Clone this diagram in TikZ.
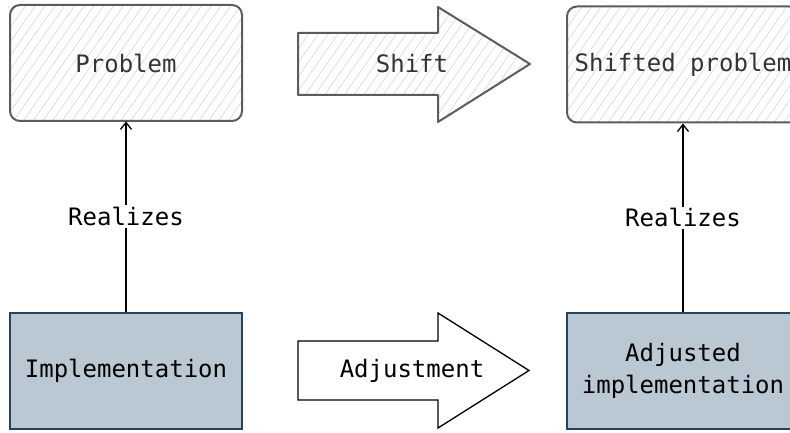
\documentclass[tikz,border=0pt]{standalone}
\usepackage{fontspec}
\setmonofont{DejaVu Sans Mono}
\usetikzlibrary{arrows.meta,patterns.meta,positioning}

\definecolor{sketchgray}{HTML}{5C5C5C}
\definecolor{hatchgray}{HTML}{DADADA}
\definecolor{implfill}{HTML}{BAC8D3}
\definecolor{impldraw}{HTML}{23445D}

\tikzset{
  problembox/.style={draw=sketchgray, line width=2pt, rounded corners=10pt,
    pattern={Lines[angle=55,distance=8pt,line width=0.7pt]}, pattern color=hatchgray,
    minimum width=232pt, minimum height=116pt, inner sep=0pt,
    font=\ttfamily\fontsize{24}{32}\selectfont, text=black!80},
  implbox/.style={draw=impldraw, line width=1.5pt, fill=implfill,
    minimum width=232pt, minimum height=116pt, inner sep=0pt, align=center,
    font=\ttfamily\fontsize{24}{32}\selectfont},
  lbl/.style={font=\ttfamily\fontsize{24}{32}\selectfont, fill=white, inner sep=2pt},
  realizes/.style={-{Straight Barb[length=7pt,width=11pt]}, line width=1.3pt}
}

\begin{document}
\begin{tikzpicture}[x=1pt, y=1pt]
  \useasboundingbox (0,0) rectangle (790,433);
  \clip (0,0) rectangle (790,433);

  % boxes
  \node[problembox] (prob) at (126,370) {Problem};
  \node[problembox] (sprob) at (683,368.5) {Shifted problem};
  \node[implbox] (impl) at (126,62) {Implementation};
  \node[implbox] (aimpl) at (683,62) {Adjusted\\implementation};

  % shift arrow
  \draw[draw=sketchgray, line width=2pt, line join=round,
    pattern={Lines[angle=55,distance=8pt,line width=0.7pt]}, pattern color=hatchgray]
    (298,338) -- (298,400) -- (438,400) -- (438,426) -- (530,369)
    -- (438,311) -- (438,338) -- cycle;
  \node[font=\ttfamily\fontsize{24}{32}\selectfont, text=black!80] (shift) at (412,369) {Shift};

  % adjustment arrow
  \draw[line width=1.3pt, fill=white]
    (298,33) -- (298,92) -- (438,92) -- (438,120) -- (529,62.5)
    -- (438,5) -- (438,33) -- cycle;
  \node[font=\ttfamily\fontsize{24}{32}\selectfont] (adjust) at (412,62.5) {Adjustment};

  % realizes
  \draw[realizes] (impl.north) -- (prob.south) node[lbl, pos=0.5] {Realizes};
  \draw[realizes] (aimpl.north) -- (sprob.south) node[lbl, pos=0.5] {Realizes};
\end{tikzpicture}
\end{document}
